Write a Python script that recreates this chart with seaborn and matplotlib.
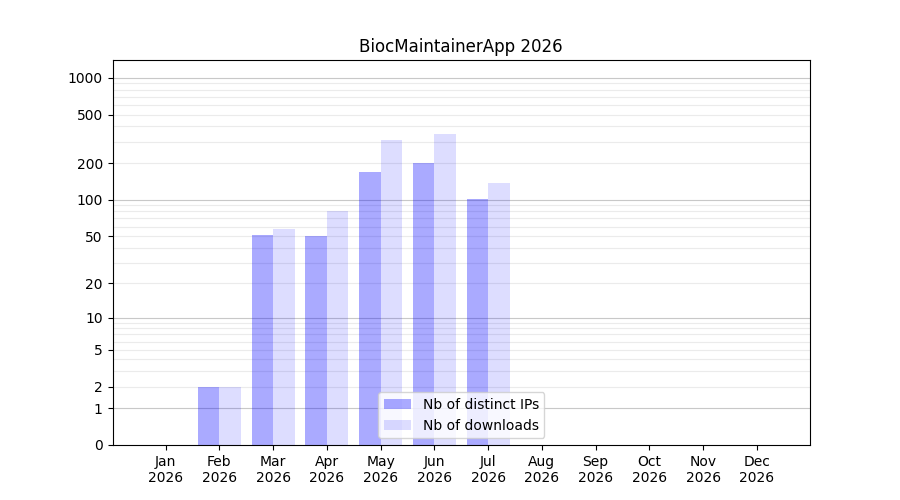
import numpy as np
import pandas as pd
import matplotlib
matplotlib.use("Agg")
import matplotlib.pyplot as plt
from matplotlib.ticker import NullLocator
import seaborn as sns

months = ["Jan", "Feb", "Mar", "Apr", "May", "Jun", "Jul", "Aug", "Sep", "Oct", "Nov", "Dec"]
year = "2026"
distinct_ips = [0, 2, 51, 50, 169, 200, 102, 0, 0, 0, 0, 0]
downloads = [0, 2, 57, 81, 308, 345, 137, 0, 0, 0, 0, 0]
series_names = ["Nb of distinct IPs", "Nb of downloads"]
series_color = "#0000ff"
series_alphas = [1 / 3, 2 / 15]
ytick_values = [0, 1, 2, 5, 10, 20, 50, 100, 200, 500, 1000]
title = "BiocMaintainerApp 2026"

labels = [f"{m}\n{year}" for m in months]
df = pd.DataFrame({
    "month": labels * 2,
    "value": distinct_ips + downloads,
    "series": [series_names[0]] * len(labels) + [series_names[1]] * len(labels),
})

fig, ax = plt.subplots(figsize=(9, 5), dpi=100)
sns.barplot(data=df, x="month", y="value", hue="series", order=labels,
            hue_order=series_names, palette=[series_color, series_color],
            errorbar=None, linewidth=0, width=0.8, saturation=1, ax=ax)

for container, a in zip(ax.containers, series_alphas):
    for p in container:
        p.set_alpha(a)
        p.set_zorder(2)

f = lambda x: np.log10(np.maximum(1 + np.asarray(x, dtype=float), 1e-12))
finv = lambda y: 10 ** np.asarray(y, dtype=float) - 1
ax.set_yscale("function", functions=(f, finv))
ax.set_ylim(0, 1400)
ax.set_xlim(-0.99, 11.99)
ax.set_yticks(ytick_values)
ax.set_yticklabels([str(v) for v in ytick_values])
ax.yaxis.set_minor_locator(NullLocator())

# grid lines: decades darker, intermediate lighter
for dec in [1, 10, 100]:
    for k in range(2, 10):
        ax.axhline(dec * k, color="#ebebeb", linewidth=0.8, zorder=0.5)
for dec in [1, 10, 100, 1000]:
    ax.axhline(dec, color="#c8c8c8", linewidth=0.8, zorder=0.6)

ax.set_xlabel("")
ax.set_ylabel("")
ax.set_title(title, fontsize=12)
handles, lbls = ax.get_legend_handles_labels()
for h, a in zip(handles, series_alphas):
    h.set_alpha(a)
ax.legend(handles, lbls, loc="lower center", title=None)

fig.subplots_adjust(left=0.125, right=0.9, top=0.88, bottom=0.11)
fig.savefig("out.png", dpi=100)
